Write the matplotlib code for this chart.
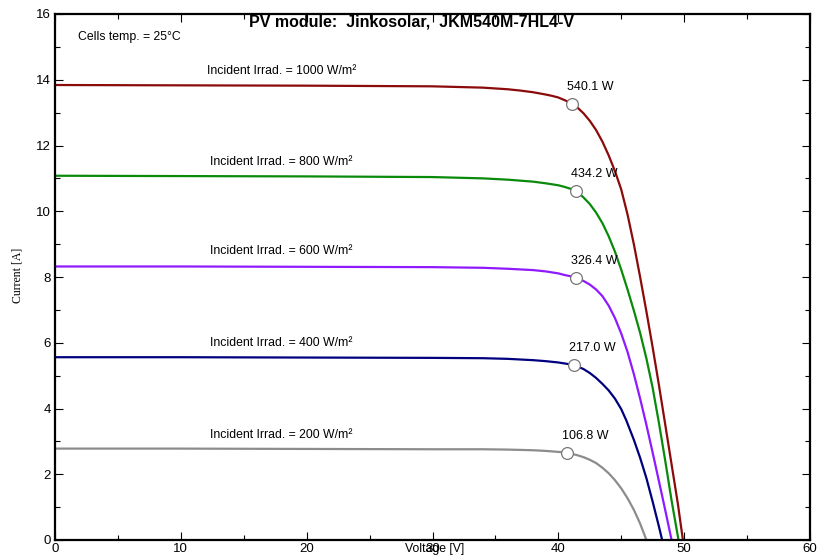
import matplotlib
matplotlib.use("Agg")
from matplotlib import pyplot as plt
from matplotlib.ticker import MultipleLocator

plt.rcParams['font.family'] = ['Liberation Sans', 'DejaVu Sans']

# I-V curves (voltage [V], current [A])
v_1000 = [0, 10, 20, 30, 34, 36, 37, 38, 39, 39.5, 40, 40.5, 41.1, 41.5, 42, 42.5, 43, 43.5, 44, 44.5,
          45, 45.5, 46, 46.5, 47, 47.5, 48, 48.5, 49, 49.5, 49.9]
i_1000 = [13.84, 13.83, 13.82, 13.80, 13.76, 13.71, 13.67, 13.62, 13.55, 13.51, 13.46, 13.38, 13.27, 13.16,
          12.98, 12.75, 12.47, 12.12, 11.70, 11.22, 10.66, 9.9, 9.0, 8.0, 6.95, 5.85, 4.7, 3.5, 2.3, 1.1, 0]

v_800 = [0, 10, 20, 30, 34, 36, 37, 38, 39, 40, 40.5, 41, 41.4, 42, 42.5, 43, 43.5, 44, 44.5, 45, 45.5,
         46, 46.5, 47, 47.5, 48, 48.5, 49, 49.55]
i_800 = [11.08, 11.07, 11.06, 11.04, 11.0, 10.96, 10.93, 10.9, 10.85, 10.79, 10.74, 10.68, 10.62, 10.42,
         10.22, 9.96, 9.64, 9.24, 8.77, 8.22, 7.62, 6.98, 6.3, 5.52, 4.62, 3.55, 2.4, 1.2, 0]

v_600 = [0, 10, 20, 30, 34, 36, 38, 39, 40, 40.5, 41, 41.4, 42, 42.5, 43, 43.5, 44, 44.5, 45, 45.5, 46,
         46.5, 47, 47.5, 48, 48.5, 49.0]
i_600 = [8.32, 8.32, 8.31, 8.30, 8.28, 8.25, 8.21, 8.17, 8.11, 8.06, 8.02, 7.98, 7.88, 7.77, 7.62, 7.42,
         7.13, 6.75, 6.28, 5.72, 5.05, 4.3, 3.5, 2.65, 1.78, 0.9, 0]

v_400 = [0, 10, 20, 30, 34, 36, 38, 39, 40, 40.5, 41.27, 42, 42.5, 43, 43.5, 44, 44.5, 45, 45.4, 46,
         46.5, 47, 47.5, 48, 48.25]
i_400 = [5.56, 5.56, 5.55, 5.54, 5.53, 5.51, 5.47, 5.44, 5.40, 5.37, 5.32, 5.2, 5.08, 4.93, 4.75, 4.55,
         4.3, 3.98, 3.64, 3.05, 2.5, 1.88, 1.16, 0.4, 0]

v_200 = [0, 10, 20, 30, 34, 36, 38, 39, 40, 40.67, 41.5, 42, 42.5, 43, 43.5, 44, 44.5, 45, 45.5, 46,
         46.5, 47.0]
i_200 = [2.78, 2.78, 2.77, 2.76, 2.76, 2.75, 2.73, 2.71, 2.68, 2.66, 2.58, 2.52, 2.44, 2.34, 2.2, 2.03,
         1.82, 1.57, 1.27, 0.92, 0.5, 0]

irrad = [1000, 800, 600, 400, 200]
colors = ["#8b0a0a", "#0a8a0a", "#8f1aff", "#00007f", "#8c8c8c"]
mpp_v = [41.1, 41.4, 41.4, 41.27, 40.67]
mpp_i = [13.27, 10.62, 7.98, 5.32, 2.66]
mpp_p = ["540.1 W", "434.2 W", "326.4 W", "217.0 W", "106.8 W"]
label_v = 18.0
label_i = [14.27, 11.50, 8.78, 6.00, 3.20]

curves = [(v_1000, i_1000), (v_800, i_800), (v_600, i_600), (v_400, i_400), (v_200, i_200)]

fig = plt.figure(figsize=(8.23, 5.57), dpi=100)
ax = fig.add_axes([55 / 823, 17 / 557, 755 / 823, 526 / 557])

for k in range(5):
    v, i = curves[k]
    ax.plot(v, i, color=colors[k], lw=1.6, zorder=2)
    ax.plot(mpp_v[k], mpp_i[k], "o", ms=8.5, mfc="white", mec="#777777", mew=0.9, zorder=3)
    ax.annotate(mpp_p[k], (mpp_v[k], mpp_i[k]), xytext=(13, 12), textcoords="offset points",
                ha="center", va="center", fontsize=9)
    ax.text(label_v, label_i[k], "Incident Irrad. = %d W/m²" % irrad[k],
            ha="center", va="center", fontsize=8.8)

ax.text(1.85, 15.3, "Cells temp. = 25°C", ha="left", va="center", fontsize=8.8)

ax.set_xlim(0, 60)
ax.set_ylim(0, 16)
ax.xaxis.set_major_locator(MultipleLocator(10))
ax.xaxis.set_minor_locator(MultipleLocator(5))
ax.yaxis.set_major_locator(MultipleLocator(2))
ax.yaxis.set_minor_locator(MultipleLocator(1))
ax.tick_params(which="both", direction="in", top=True, right=True, width=0.8, labelsize=9.5)
ax.tick_params(which="major", length=6)
ax.tick_params(which="minor", length=3.5)
ax.tick_params(axis="x", pad=2)
ax.tick_params(axis="y", pad=3)
for s in ax.spines.values():
    s.set_linewidth(1.6)

fig.text(0.5, 1 - 21.7 / 557, "PV module:  Jinkosolar,  JKM540M-7HL4-V",
         ha="center", va="center", fontsize=11.5, fontweight="bold")
fig.text(435 / 823, 1 - 549 / 557, "Voltage [V]", ha="center", va="center", fontsize=8.8)
fig.text(17 / 823, 1 - 275 / 557, "Current [A]", ha="center", va="center", rotation=90,
         fontsize=8.5, family=["Liberation Serif", "DejaVu Serif"])

fig.savefig("out.png", dpi=100)
